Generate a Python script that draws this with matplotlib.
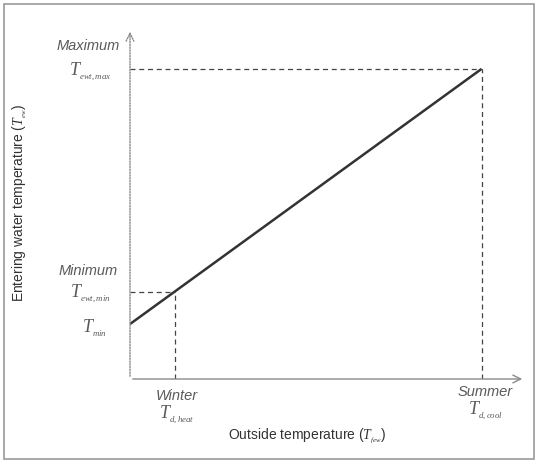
import matplotlib
matplotlib.use("Agg")
import matplotlib.pyplot as plt
from matplotlib.patches import Rectangle

plt.rcParams['font.family'] = ['Liberation Sans', 'DejaVu Sans']
plt.rcParams['mathtext.fontset'] = 'custom'
plt.rcParams['mathtext.it'] = 'Liberation Serif:italic'
plt.rcParams['mathtext.rm'] = 'Liberation Serif'

# conceptual values (arbitrary units)
x_winter = 1.14
x_summer = 8.9
y_min = 1.57
y_ewt_min = 2.50
y_ewt_max = 8.86
line_x = [0.0, x_summer]
line_y = [y_min, y_ewt_max]

fig = plt.figure(figsize=(5.39, 4.64), dpi=100)
fig.patches.append(Rectangle((4/539, 4/464), 530/539, 455/464, transform=fig.transFigure,
                             fill=False, edgecolor='#9a9a9a', lw=1.2))
ax = fig.add_axes([130/539, 1 - 380/464, 395/539, 350/464])
ax.set_xlim(0, 10)
ax.set_ylim(0, 10)
for s in ax.spines.values():
    s.set_visible(False)
ax.set_xticks([])
ax.set_yticks([])
ax.patch.set_alpha(0)

gray = '#8a8a8a'
# axes with open arrowheads
ax.annotate('', xy=(10, 0), xytext=(0, 0), xycoords='data',
            arrowprops=dict(arrowstyle='->', color=gray, lw=1.0, mutation_scale=14), annotation_clip=False)
ax.annotate('', xy=(0, 10), xytext=(0, 0), xycoords='data',
            arrowprops=dict(arrowstyle='->', color=gray, lw=1.0, linestyle=(0, (1, 1)), mutation_scale=14),
            annotation_clip=False)

# main line
ax.plot(line_x, line_y, color='#333333', lw=1.8, solid_capstyle='butt')

dash = dict(color='#444444', lw=0.9, ls=(0, (4, 3)))
ax.plot([0, x_summer], [y_ewt_max, y_ewt_max], **dash)
ax.plot([x_summer, x_summer], [0, y_ewt_max], **dash)
ax.plot([0, x_winter], [y_ewt_min, y_ewt_min], **dash)
ax.plot([x_winter, x_winter], [0, y_ewt_min], **dash)

tc = '#5a5a5a'
def lbl(x, y, s, size=10.5, **kw):
    ax.text(x, y, s, color=tc, fontsize=size, style='italic', ha='center', va='center',
            transform=ax.transData, **kw)

px = -1.0
lbl(px - 0.05, y_ewt_max + 0.68, 'Maximum')
lbl(px, y_ewt_max - 0.05, r'$T_{_{ewt,max}}$', size=13)
lbl(px - 0.05, y_ewt_min + 0.62, 'Minimum')
lbl(px, y_ewt_min - 0.05, r'$T_{_{ewt,min}}$', size=13)
lbl(px + 0.1, y_min - 0.1, r'$T_{_{min}}$', size=13)

lbl(x_winter + 0.05, -0.45, 'Winter')
lbl(x_winter + 0.05, -0.98, r'$T_{_{d,heat}}$', size=13)
lbl(x_summer + 0.1, -0.35, 'Summer')
lbl(x_summer + 0.1, -0.88, r'$T_{_{d,cool}}$', size=13)

ax.text(4.5, -1.62, r'Outside temperature ($T_{_{few}}$)', color='#333333',
        fontsize=10, ha='center', va='center')
ax.text(-2.78, 5.06, r'Entering water temperature ($T_{_{ew}}$)', color='#333333',
        fontsize=10, ha='center', va='center', rotation=90)

fig.savefig('out.png', dpi=100)
